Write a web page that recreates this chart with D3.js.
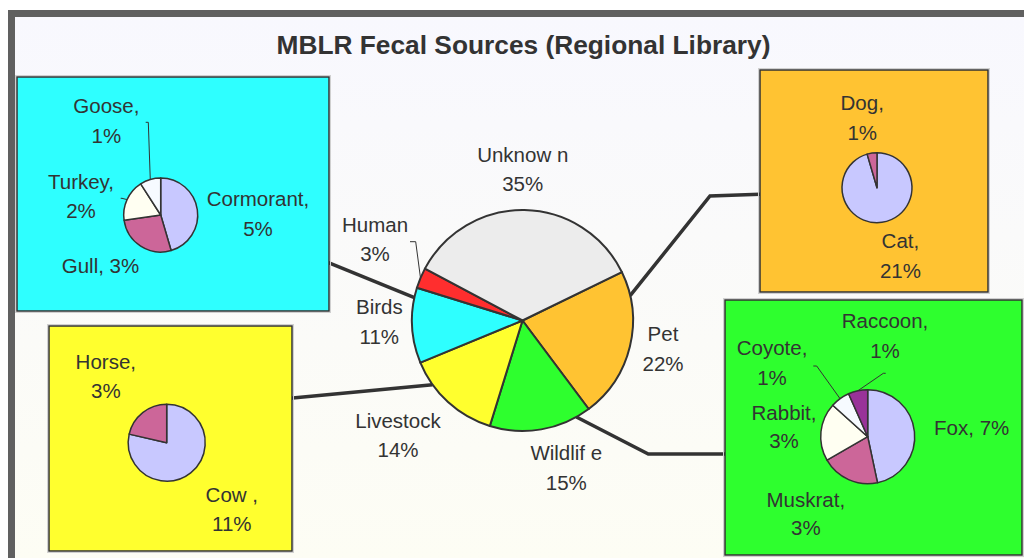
<!DOCTYPE html>
<html>
<head>
<meta charset="utf-8">
<script src="https://cdn.jsdelivr.net/npm/d3@7"></script>
<style>
html, body { margin: 0; padding: 0; background: #fff; }
svg { display: block; }
</style>
</head>
<body>
<div id="chart"></div>
<script>
const width = 1024;
const height = 558;

// main pie
const mainNames = ["Pet", "Wildlif e", "Livestock", "Birds", "Human", "Unknow n"];
const mainValues = [22, 15, 14, 11, 3, 35];
const mainColors = ["#FFC332", "#2EFF2E", "#FFFF2E", "#2EFFFF", "#FF2E2E", "#ECECEC"];

// breakdown pies
const birdNames = ["Cormorant", "Gull", "Turkey", "Goose"];
const birdValues = [5, 3, 2, 1];
const petNames = ["Cat", "Dog"];
const petValues = [21, 1];
const livestockNames = ["Cow ", "Horse"];
const livestockValues = [11, 3];
const wildlifeNames = ["Fox", "Muskrat", "Rabbit", "Coyote", "Raccoon"];
const wildlifeValues = [7, 3, 3, 1, 1];

const lav = "#C8C8FF", mauve = "#CC6699", ivory = "#FFFFF2", pale = "#F6FAFF", purple = "#993399";
const ink = "#333333";
const font = "'Liberation Sans', Arial, sans-serif";

const svg = d3.select("#chart")
    .append("svg")
    .attr("width", width)
    .attr("height", height);

const grad = svg.append("defs").append("linearGradient")
    .attr("id", "bg").attr("x1", 0).attr("y1", 0).attr("x2", 0).attr("y2", 1);
grad.append("stop").attr("offset", "0%").attr("stop-color", "#F8F8FE");
grad.append("stop").attr("offset", "100%").attr("stop-color", "#FDFDF4");

// frame
svg.append("rect").attr("x", 15).attr("y", 17).attr("width", width - 15).attr("height", height - 17).attr("fill", "url(#bg)");
svg.append("rect").attr("x", 8).attr("y", 10).attr("width", width - 8).attr("height", 7).attr("fill", "#606060");
svg.append("rect").attr("x", 8).attr("y", 10).attr("width", 7).attr("height", height - 10).attr("fill", "#606060");

svg.append("text")
    .attr("x", 523.5).attr("y", 53.5)
    .attr("text-anchor", "middle")
    .attr("font-family", font)
    .attr("font-weight", "bold")
    .attr("font-size", 26.3)
    .attr("fill", ink)
    .text("MBLR Fecal Sources (Regional Library)");

const deg = Math.PI / 180;

function labelLines(name, value, mode) {
    if (mode === "one") return [`${name}, ${value}%`];
    if (mode === "plain") return [name, `${value}%`];
    return [`${name},`, `${value}%`];
}

function drawPie(g, names, values, colors, opt) {
    const pie = d3.pie().sort(null).value(d => d)
        .startAngle(opt.start * deg).endAngle(opt.start * deg + 2 * Math.PI);
    const arcs = pie(values);
    const arc = d3.arc().innerRadius(0).outerRadius(opt.r);

    const pg = g.append("g").attr("transform", `translate(${opt.cx},${opt.cy})`);

    pg.selectAll("path.slice")
        .data(arcs)
        .join("path")
        .attr("class", "slice")
        .attr("d", arc)
        .attr("fill", (d, i) => colors[i])
        .attr("stroke", ink)
        .attr("stroke-width", opt.sw)
        .attr("stroke-linejoin", "round");

    // leader lines for the small slices
    arcs.forEach((d, i) => {
        const lead = opt.leaders[i];
        if (!lead) return;
        const mid = (d.startAngle + d.endAngle) / 2;
        const p0 = d3.pointRadial(mid, opt.r);
        pg.append("polyline")
            .attr("points", [p0, ...lead].map(p => p.join(",")).join(" "))
            .attr("fill", "none")
            .attr("stroke", ink)
            .attr("stroke-width", 1);
    });

    arcs.forEach((d, i) => {
        const lab = opt.labels[i];
        const t = pg.append("text")
            .attr("text-anchor", "middle")
            .attr("font-family", font)
            .attr("font-size", opt.fs)
            .attr("fill", ink);
        labelLines(names[i], values[i], lab.mode).forEach((s, k) => {
            t.append("tspan")
                .attr("x", lab.dx)
                .attr("y", lab.dy + k * (lab.gap || 29.5))
                .text(s);
        });
    });
    return pg;
}

// main pie geometry
const mcx = 522.5, mcy = 320.5, mr = 110.5, mstart = 64;

// boxes and connectors
const boxes = [
    { x: 17, y: 77, w: 312, h: 234, fill: "#2EFFFF" },
    { x: 760, y: 70, w: 228, h: 222, fill: "#FFC332" },
    { x: 49, y: 326, w: 243, h: 225, fill: "#FFFF2E" },
    { x: 725, y: 300, w: 297, h: 255, fill: "#2EFF2E" }
];

const connectors = [
    { angle: 282, pts: [[326, 261.7]] },
    { angle: 234.5, pts: [[290, 398.3]] },
    { angle: 77, pts: [[710, 196], [760, 194.3]] },
    { angle: 150.8, pts: [[648.3, 454], [726, 454]] }
];

svg.append("g").selectAll("path")
    .data(connectors)
    .join("path")
    .attr("d", c => {
        const p = d3.pointRadial(c.angle * deg, mr);
        return d3.line()([[mcx + p[0], mcy + p[1]], ...c.pts]);
    })
    .attr("fill", "none")
    .attr("stroke", ink)
    .attr("stroke-width", 3.5);

const boxG = svg.append("g");
boxG.selectAll("rect.shadow")
    .data(boxes)
    .join("rect")
    .attr("class", "shadow")
    .attr("x", d => d.x - 1.5).attr("y", d => d.y - 1.5)
    .attr("width", d => d.w + 3).attr("height", d => d.h + 3)
    .attr("fill", "none").attr("stroke", "#d0d0d0").attr("stroke-width", 1);
boxG.selectAll("rect.box")
    .data(boxes)
    .join("rect")
    .attr("class", "box")
    .attr("x", d => d.x).attr("y", d => d.y)
    .attr("width", d => d.w).attr("height", d => d.h)
    .attr("fill", d => d.fill)
    .attr("stroke", ink)
    .attr("stroke-width", 1.5);

// main pie
drawPie(svg, mainNames, mainValues, mainColors, {
    cx: mcx, cy: mcy, r: mr, start: mstart, sw: 2, fs: 20.5,
    labels: [
        { dx: 140.5, dy: 20.5, mode: "plain" },
        { dx: 43.8, dy: 139.5, mode: "plain" },
        { dx: -124.5, dy: 107.2, mode: "plain" },
        { dx: -143.2, dy: -6.2, mode: "plain" },
        { dx: -147.5, dy: -88.8, mode: "plain" },
        { dx: 0.2, dy: -158.8, mode: "plain" }
    ],
    leaders: [null, null, null, null, [[-106.8, -78.8], [-112.5, -78.8]], null]
});

// birds
drawPie(svg, birdNames, birdValues, [lav, mauve, ivory, pale], {
    cx: 160.7, cy: 215, r: 37, start: 0, sw: 1.5, fs: 20.5,
    labels: [
        { dx: 97.3, dy: -9, gap: 29.7 },
        { dx: -60.2, dy: 58.3, mode: "one" },
        { dx: -79.7, dy: -26, gap: 28.7 },
        { dx: -54.3, dy: -102.3, gap: 30 }
    ],
    leaders: [null, null, [[-38.7, -16.7], [-40, -16.7]], [[-12.4, -92.7], [-15, -92.7]]]
});

// pet
drawPie(svg, petNames, petValues, [lav, mauve], {
    cx: 877, cy: 187.7, r: 35, start: 0, sw: 1.5, fs: 20.5,
    labels: [
        { dx: 23.4, dy: 60.6, gap: 30 },
        { dx: -14.8, dy: -77.7, gap: 30 }
    ],
    leaders: []
});

// livestock
drawPie(svg, livestockNames, livestockValues, [lav, mauve], {
    cx: 166.7, cy: 442.7, r: 38.5, start: 0, sw: 1.5, fs: 20.5,
    labels: [
        { dx: 65.1, dy: 59, gap: 29 },
        { dx: -60.9, dy: -73.4, gap: 29 }
    ],
    leaders: []
});

// wildlife
drawPie(svg, wildlifeNames, wildlifeValues, [lav, mauve, ivory, pale, purple], {
    cx: 867.7, cy: 436.7, r: 47, start: 0, sw: 1.5, fs: 20.5,
    labels: [
        { dx: 104, dy: -1.7, mode: "one" },
        { dx: -61.9, dy: 70, gap: 28.3 },
        { dx: -83.7, dy: -16.7, gap: 28.3 },
        { dx: -95.7, dy: -81.7, gap: 30 },
        { dx: 17.3, dy: -108.4, gap: 30 }
    ],
    leaders: [null, null, null, [[-51, -70.7], [-54.4, -70.7]], [[15.6, -63.4], [18, -63.4]]]
});
</script>
</body>
</html>
